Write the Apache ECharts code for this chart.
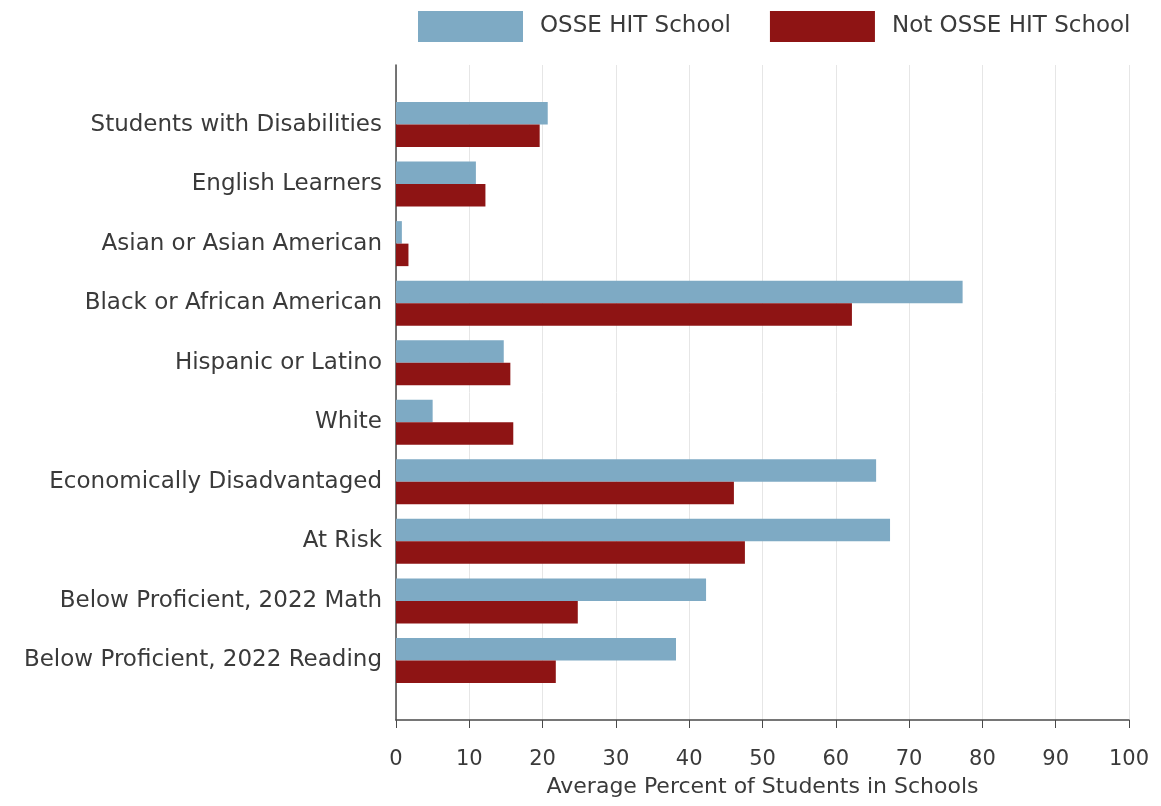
<!DOCTYPE html>
<html>
<head>
<meta charset="utf-8">
<script src="https://cdn.jsdelivr.net/npm/echarts@6/dist/echarts.min.js"></script>
<style>
html,body{margin:0;padding:0;background:#fff;}
#chart{width:1161px;height:806px;}
</style>
</head>
<body>
<div id="chart"></div>
<script>
const categories = [
  'Students with Disabilities',
  'English Learners',
  'Asian or Asian American',
  'Black or African American',
  'Hispanic or Latino',
  'White',
  'Economically Disadvantaged',
  'At Risk',
  'Below Proficient, 2022 Math',
  'Below Proficient, 2022 Reading'
];
const hitValues =    [20.7, 10.9, 0.8, 77.3, 14.7, 5.0, 65.5, 67.4, 42.3, 38.2];
const notHitValues = [19.6, 12.2, 1.7, 62.2, 15.6, 16.0, 46.1, 47.6, 24.8, 21.8];
const seriesNames = ['OSSE HIT School', 'Not OSSE HIT School'];
const xTicks = [0, 100, 10];

// pad with empty slots so the axis line extends above/below the bars
const axisCats = [''].concat(categories, ['']);
const pad = arr => [null].concat(arr, [null]);

const FONT = 'DejaVu Sans';
const TXT = '#3a3a3a';

const chart = echarts.init(document.getElementById('chart'));
chart.setOption({
  backgroundColor: '#fff',
  animation: false,
  textStyle: { fontFamily: FONT },
  legend: {
    top: 11,
    left: 418,
    padding: 0,
    itemWidth: 105,
    itemHeight: 31,
    itemGap: 39,
    icon: 'rect',
    textStyle: { fontSize: 23, color: TXT, fontFamily: FONT, padding: [5, 0, 0, 12] },
    data: seriesNames
  },
  grid: { left: 396, right: 32, top: 65, bottom: 86, containLabel: false },
  xAxis: {
    type: 'value',
    min: xTicks[0], max: xTicks[1], interval: xTicks[2],
    name: 'Average Percent of Students in Schools',
    nameLocation: 'middle',
    nameGap: 56,
    nameTextStyle: { fontSize: 22, color: TXT, fontFamily: FONT },
    axisLine: { show: true, lineStyle: { color: '#4a4a4a', width: 1.5 } },
    axisTick: { show: true, length: 8, lineStyle: { color: '#4a4a4a' } },
    axisLabel: { fontSize: 21, color: TXT, margin: 29, fontFamily: FONT },
    splitLine: { show: true, lineStyle: { color: '#e6e6e6', width: 1 } }
  },
  yAxis: {
    type: 'category',
    inverse: true,
    boundaryGap: false,
    data: axisCats,
    axisLine: { show: true, lineStyle: { color: '#4a4a4a', width: 1.5 } },
    axisTick: { show: false },
    axisLabel: { fontSize: 23, color: TXT, margin: 14, fontFamily: FONT, interval: 0, padding: [3, 0, 0, 0] },
    splitLine: { show: false }
  },
  series: [
    {
      name: seriesNames[0], type: 'bar', data: pad(hitValues),
      barWidth: 22.5, barGap: '0%',
      itemStyle: { color: '#7eaac4' }
    },
    {
      name: seriesNames[1], type: 'bar', data: pad(notHitValues),
      barWidth: 22.5, barGap: '0%',
      itemStyle: { color: '#8e1414' }
    }
  ]
});
</script>
</body>
</html>
